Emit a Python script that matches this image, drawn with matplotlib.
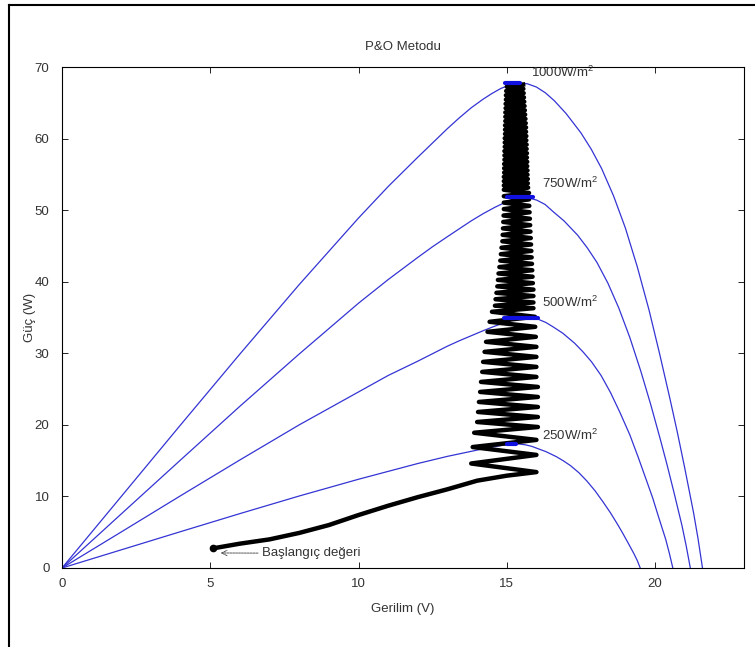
import matplotlib
matplotlib.use("Agg")
import matplotlib.pyplot as plt
from matplotlib.lines import Line2D

# PV power curves (voltage V, power W)
v_1000 = [0, 2, 4, 6, 8, 10, 11, 12, 12.5, 13, 13.4, 13.8, 14.2, 14.5, 14.8, 15.1, 15.4,
          15.7, 16.0, 16.3, 16.6, 17.0, 17.5, 17.85, 18.2, 18.6, 19.0, 19.4, 19.8,
          20.15, 20.5, 20.75, 21.0, 21.3, 21.45, 21.6]
p_1000 = [0, 10.0, 20.0, 29.9, 39.6, 48.9, 53.3, 57.4, 59.4, 61.4, 62.9, 64.3, 65.5, 66.3, 67.0, 67.5, 67.75,
          67.65, 67.2, 66.4, 65.3, 63.5, 60.8, 58.5, 55.8, 52.0, 47.5, 42.1, 36.0,
          30.0, 23.7, 19.0, 14.0, 7.7, 4.1, 0]

v_750 = [0, 2, 4, 6, 8, 10, 11, 12, 12.5, 13, 13.4, 13.8, 14.2, 14.6, 15.0, 15.25, 15.5,
         15.73, 16.01, 16.29, 16.56, 16.93, 17.39, 17.72, 18.04, 18.41, 18.78, 19.15, 19.52,
         19.85, 20.17, 20.4, 20.63, 20.91, 21.05, 21.19]
p_750 = [0, 7.56, 15.1, 22.6, 29.9, 37.0, 40.3, 43.4, 44.9, 46.3, 47.4, 48.5, 49.5, 50.4, 51.2, 51.6, 51.8,
         51.72, 51.4, 50.8, 49.8, 48.5, 46.5, 44.7, 42.7, 39.8, 36.3, 32.2, 27.5,
         22.9, 18.1, 14.5, 10.7, 5.9, 3.1, 0]

v_500 = [0, 2, 4, 6, 8, 10, 11, 12, 12.5, 13, 13.4, 13.8, 14.2, 14.6, 15.0, 15.3, 15.64,
         15.84, 16.08, 16.32, 16.57, 16.89, 17.29, 17.57, 17.86, 18.18, 18.5, 18.82, 19.15,
         19.43, 19.71, 19.92, 20.11, 20.36, 20.48, 20.6]
p_500 = [0, 5.04, 10.1, 15.1, 20.0, 24.6, 26.9, 28.9, 29.95, 31.0, 31.75, 32.45, 33.15, 33.8, 34.4, 34.8, 35.0,
         34.95, 34.72, 34.3, 33.67, 32.8, 31.4, 30.2, 28.8, 26.9, 24.5, 21.7, 18.6,
         15.5, 12.25, 9.8, 7.25, 4.0, 2.1, 0]

v_250 = [0, 2, 4, 6, 8, 10, 11, 12, 12.5, 13, 13.4, 13.8, 14.2, 14.6, 15.0, 15.25,
         15.42, 15.63, 15.84, 16.04, 16.32, 16.67, 16.91, 17.15, 17.43, 17.7, 17.98, 18.25,
         18.5, 18.74, 18.91, 19.08, 19.29, 19.4, 19.5]
p_250 = [0, 2.54, 5.08, 7.6, 10.06, 12.4, 13.5, 14.6, 15.1, 15.6, 15.95, 16.3, 16.65, 16.95, 17.25, 17.35,
         17.32, 17.21, 17.0, 16.69, 16.26, 15.56, 14.97, 14.3, 13.32, 12.16, 10.77, 9.21,
         7.69, 6.07, 4.86, 3.59, 1.98, 1.05, 0]

# P&O operating point trace: start ramp, then the oscillation turning points
rise_v = [5.1, 6, 7, 8, 9, 10, 11, 12, 13, 14, 15, 16.0]
rise_p = [2.75, 3.4, 4.0, 4.9, 6.0, 7.4, 8.7, 9.9, 11.0, 12.2, 12.9, 13.4]

zig_v = [16.0, 13.8, 16.0, 13.85, 16.0, 13.9, 16.05,
         14.0, 16.05, 14.03, 16.05, 14.06, 16.05, 14.1, 16.05, 14.13, 16.0, 14.17, 16.0,
         14.2, 16.0, 14.25, 16.0, 14.3, 15.98, 14.35, 15.96, 14.42, 15.95, 14.5, 15.9,
         14.6, 15.9, 14.62, 15.9, 14.65, 15.9, 14.68, 15.88, 14.7, 15.87, 14.72, 15.86,
         14.75, 15.85, 14.78, 15.84, 14.8, 15.83, 14.82, 15.82, 14.85, 15.81, 14.86, 15.8,
         14.87, 15.79, 14.88, 15.78, 14.89, 15.77, 14.9, 15.76, 14.9, 15.75, 14.9, 15.75, 14.9,
         15.72, 14.9, 15.71, 14.9, 15.71, 14.9, 15.7, 14.91, 15.7, 14.91, 15.69, 14.91,
         15.69, 14.92, 15.68, 14.92, 15.68, 14.92, 15.67, 14.93, 15.67, 14.93, 15.66, 14.93,
         15.66, 14.94, 15.65, 14.94, 15.65, 14.94, 15.64, 14.95, 15.63, 14.95, 15.62, 14.95,
         15.61, 14.96, 15.6, 14.96, 15.59, 14.97, 15.58, 14.97, 15.57, 14.98, 15.56, 15.0, 15.55]
zig_p = [13.4, 14.6, 15.8, 16.9, 17.9, 18.9, 19.7,
         20.4, 21.1, 21.8, 22.5, 23.2, 23.9, 24.6, 25.3, 26.0, 26.7, 27.4, 28.1,
         28.8, 29.5, 30.2, 30.9, 31.6, 32.3, 33.0, 33.7, 34.4, 35.1, 35.8, 36.3,
         36.65, 37.1, 37.55, 38.0, 38.45, 38.9, 39.35, 39.8, 40.25, 40.7, 41.15, 41.6,
         42.05, 42.5, 42.95, 43.4, 43.85, 44.3, 44.75, 45.2, 45.65, 46.1, 46.55, 47.0,
         47.45, 47.9, 48.35, 48.8, 49.25, 49.7, 50.15, 50.6, 51.05, 51.5, 51.95, 52.4, 52.85,
         53.15, 53.45, 53.75, 54.05, 54.35, 54.65, 54.95, 55.25, 55.55, 55.85, 56.15, 56.45,
         56.75, 57.05, 57.35, 57.65, 57.95, 58.25, 58.55, 58.85, 59.15, 59.45, 59.75, 60.05,
         60.35, 60.65, 60.95, 61.25, 61.55, 61.85, 62.15, 62.45, 62.75, 63.05, 63.35, 63.65,
         63.95, 64.25, 64.55, 64.85, 65.15, 65.45, 65.75, 66.05, 66.35, 66.65, 66.95, 67.25, 67.55]

# blue marks where the trace sits on each maximum power point
mpp_v_left = [14.95, 15.0, 14.9, 15.0]
mpp_v_right = [15.45, 15.9, 16.05, 15.3]
mpp_p = [67.7, 51.8, 34.9, 17.3]

labels = ["1000W/m$^2$", "750W/m$^2$", "500W/m$^2$", "250W/m$^2$"]
label_v = [15.8, 16.2, 16.2, 16.2]
label_p = [69.2, 53.8, 37.1, 18.5]

plt.rcParams["font.family"] = ["Liberation Sans", "DejaVu Sans"]
plt.rcParams["mathtext.default"] = "regular"

W, H = 755, 647
fig = plt.figure(figsize=(W / 100, H / 100), dpi=100)
ax = fig.add_axes([62 / W, 1 - 568 / H, (744 - 62) / W, (568 - 67) / H])

blue = "#3434d4"
for v, p in [(v_1000, p_1000), (v_750, p_750), (v_500, p_500), (v_250, p_250)]:
    ax.plot(v, p, color=blue, lw=0.9, zorder=2)

ax.plot(rise_v + zig_v, rise_p + zig_p, color="k", lw=3.2, zorder=3)
ax.plot(rise_v[0], rise_p[0], "k.", ms=9, zorder=3)

for vl, vr, p in zip(mpp_v_left, mpp_v_right, mpp_p):
    ax.plot([vl, vr], [p, p], color="#1010e0", lw=3.0, solid_capstyle="round", zorder=4)

for t, x, y in zip(labels, label_v, label_p):
    ax.text(x, y, t, fontsize=9.5, color="#333333", ha="left", va="center")

ax.annotate("Başlangıç değeri", xy=(5.35, 2.1), xytext=(6.75, 2.05),
            fontsize=9.5, color="#333333", ha="left", va="center",
            arrowprops=dict(arrowstyle="->", ls=(0, (2, 1)), lw=0.7,
                            color="#555555", shrinkA=1, shrinkB=0))

ax.set_xlim(0, 23)
ax.set_ylim(0, 70)
ax.set_xticks([0, 5, 10, 15, 20])
ax.set_yticks(range(0, 80, 10))
ax.tick_params(direction="in", length=4, width=0.6, top=True, right=True,
               labelsize=9.5, labelcolor="#333333")
ax.tick_params(axis="x", pad=7)
ax.tick_params(axis="y", pad=9)
for s in ax.spines.values():
    s.set_linewidth(0.8)

ax.set_title("P&O Metodu", fontsize=9.5, color="#333333", pad=12)
ax.set_xlabel("Gerilim (V)", fontsize=9.5, color="#333333")
ax.set_ylabel("Güç (W)", fontsize=9.5, color="#333333")
ax.xaxis.set_label_coords(0.5, -0.07)
ax.yaxis.set_label_coords(-0.038, 0.5)

# outer frame (only top and left edges fall inside the picture)
fig.add_artist(Line2D([9 / W, 9 / W], [0, 1 - 5 / H], color="k", lw=1.5))
fig.add_artist(Line2D([9 / W, 1], [1 - 5 / H, 1 - 5 / H], color="k", lw=1.5))

fig.savefig("out.png", dpi=100)
